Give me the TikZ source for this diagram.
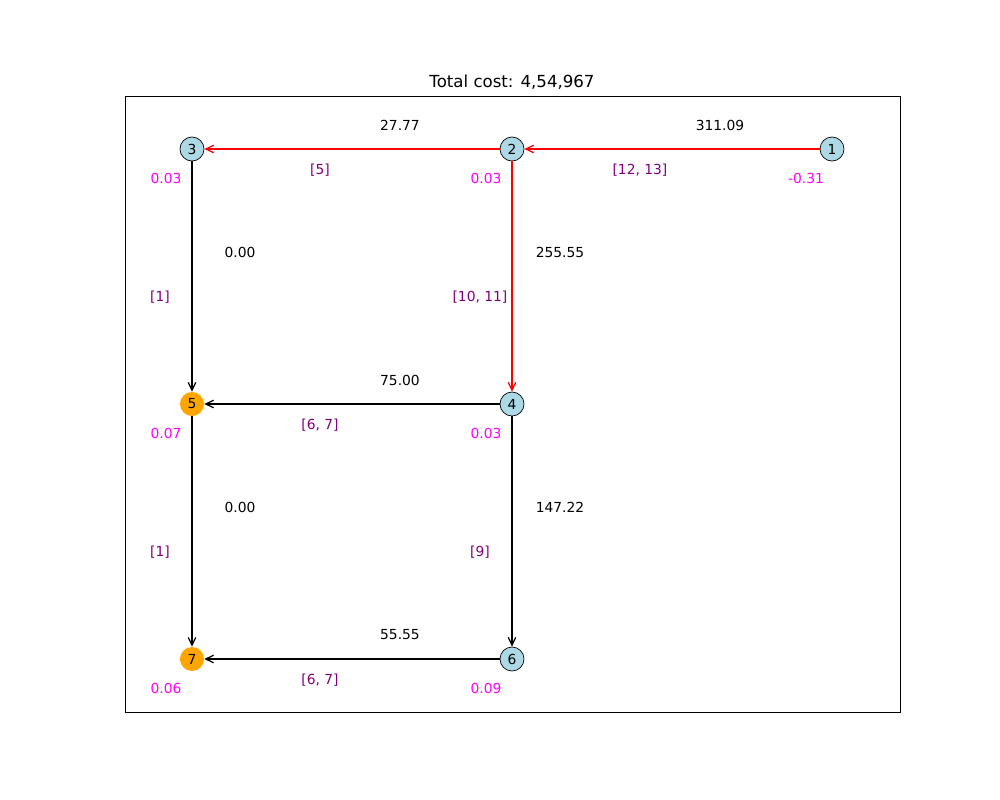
\documentclass[tikz,border=0pt]{standalone}
\usepackage{fontspec}
\setmainfont{DejaVu Sans}
\usetikzlibrary{calc, arrows.meta}
\definecolor{nodeblue}{HTML}{ADD8E6}
\definecolor{nodeorange}{HTML}{FFA500}
\definecolor{valmag}{HTML}{FF00FF}
\definecolor{lstpurple}{HTML}{800080}

\begin{document}
\begin{tikzpicture}[x=0.254mm, y=-0.254mm,
    font=\fontsize{10}{12}\selectfont,
    stop/.style={circle, draw=black, line width=0.5pt, fill=nodeblue,
                 minimum size=6.1mm, inner sep=0pt},
    sink/.style={circle, fill=nodeorange, minimum size=6.1mm, inner sep=0pt},
    edge/.style={line width=0.9pt, -{Straight Barb[length=2mm, width=1.9mm]}},
    cost/.style={text=black, inner sep=0pt},
    lst/.style={text=lstpurple, inner sep=0pt},
    val/.style={text=valmag, inner sep=0pt}
]
    \useasboundingbox (0,0) rectangle (1000,800);
    \draw[line width=0.6pt] (125,96) rectangle (900,712);
    \node[font=\fontsize{12}{14}\selectfont, inner sep=0pt] (title) at (512,82)
        {Total cost: 4,54,967};
    % stops
    \foreach \n/\x/\y/\sty/\v in {
        1/832/149/stop/-0.31,
        2/512/149/stop/0.03,
        3/192/149/stop/0.03,
        4/512/404/stop/0.03,
        5/192/404/sink/0.07,
        6/512/659/stop/0.09,
        7/192/659/sink/0.06}{
        \node[\sty] (\n) at (\x,\y) {\n};
        \node[val] (v\n) at (\x-26,\y+29) {\v};
    }
    % edges
    \foreach \s/\t/\c/\l/\col in {
        1/2/311.09/{[12, 13]}/red,
        2/3/27.77/{[5]}/red,
        2/4/255.55/{[10, 11]}/red,
        3/5/0.00/{[1]}/black,
        4/5/75.00/{[6, 7]}/black,
        5/7/0.00/{[1]}/black,
        4/6/147.22/{[9]}/black,
        6/7/55.55/{[6, 7]}/black}{
        \draw[edge, draw=\col] (\s) -- (\t);
        \node[cost] (c\s\t) at ($(\s)!0.5!(\t)+(48,-24)$) {\c};
        \node[lst] (l\s\t) at ($(\s)!0.5!(\t)+(-32,21)$) {\l};
    }
\end{tikzpicture}
\end{document}
